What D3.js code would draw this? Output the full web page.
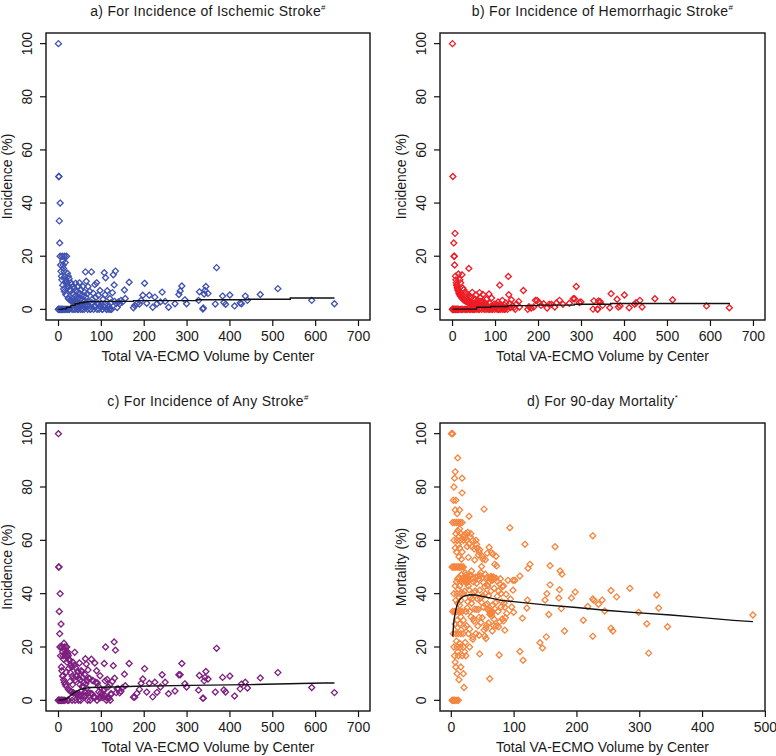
<!DOCTYPE html>
<html><head><meta charset="utf-8">
<script src="https://cdn.jsdelivr.net/npm/d3@7"></script>
<style>
body{margin:0;background:#fff}
text{font-family:"Liberation Sans",Arial,sans-serif;fill:#1a1a1a}
</style>
</head><body><svg id="chart" width="776" height="756"></svg>
<script>
// ---------- Data: centers (panels a-c share volumes) ----------
const volume = [
 1,2,2,3,4,5,5,5,6,7,
 8,8,9,10,10,11,11,12,12,13,
 13,14,15,15,16,16,17,18,18,19,
 20,20,21,22,23,24,25,25,26,27,
 28,29,30,31,32,33,34,35,36,37,
 38,39,40,41,42,43,44,45,46,47,
 48,49,50,51,52,53,54,55,56,57,
 58,59,60,61,62,63,64,65,66,67,
 68,69,70,72,74,76,78,80,82,84,
 86,88,90,92,94,96,98,
 1,1,2,3,4,6,7,9,11,14,
 17,19,22,24,27,30,33,36,40,44,
 48,52,57,63,71,75,79,83,87,91,
 95,99,104,109,114,118,122,
 101,103,105,107,108,110,111,113,115,117,
 119,121,123,125,127,129,131,132,134,136,
 138,141,144,147,150,
 155,157,166,176,179,184,190,194,198,202,
 207,213,221,226,231,239,243,250,258,273,
 282,285,289,296,300,328,330,338,339,341,
 343,345,350,367,370,384,387,391,401,412,
 425,428,437,442,472,513,592,645
];
const ischemic = [
 100,50,50,33.3,25,40,20,0,16.7,14.3,
 12.5,0,11.1,20,0,18.2,9.1,16.7,0,15.4,
 7.7,14.3,20,6.7,12.5,0,17.6,11.1,5.6,10.5,
 20,10,9.5,13.6,8.7,12.5,4,0,11.5,7.4,
 3.6,6.9,10,3.2,9.4,6.1,2.9,8.6,5.6,0,
 7.9,2.6,5,9.8,2.4,7,4.5,0,8.7,4.3,
 6.3,2,10,3.9,5.8,0,7.4,1.8,5.4,3.5,
 8.6,1.7,5,0,6.5,3.2,14.1,4.6,10.6,1.5,
 5.9,0,8.6,2.8,6.8,0,14.1,3.8,6.1,1.2,
 9.3,4.5,10,2.2,5.3,0,7.1,
 0,0,0,0,0,0,0,0,0,0,
 0,0,0,4.2,0,3.3,0,2.8,0,2.3,
 0,1.9,0,1.6,1.4,0,2.5,0,1.1,0,
 2.1,1,0,1.8,0,0.8,0,
 2,0,3.8,0.9,13.8,5.5,11.9,0,7,1.7,
 0,4.1,2.4,0,6.3,13,9.2,3,14.4,2.2,
 0.7,2.8,2.1,3.4,2.7,
 7.3,4.1,10.2,0.6,1.5,2.1,2,3.4,5.3,9.8,
 2.3,5.3,0.8,4.6,2.1,2.8,6.5,3,0.8,2.1,
 5.6,6.9,8.8,3.6,2.1,3.4,6.6,0.1,0.5,5.8,
 7.1,8.6,6,2,15.7,5,2.6,1.9,5.4,1.3,
 2.4,2.1,5,3.4,5.6,7.8,3.4,2.1
];
const hemorrhagic = [
 100,0,50,0,25,20,0,20,16.7,28.6,
 12.5,0,11.1,10,0,9.1,0,8.3,0,7.7,
 0,7.1,13.3,0,6.3,0,5.9,5.6,11.1,0,
 5,10,4.8,4.5,13,4.2,8,0,3.8,7.4,
 3.6,3.4,3.3,0,6.3,3,2.9,5.7,2.8,2.7,
 5.3,15.4,2.5,4.9,0,2.3,4.5,2.2,2.2,6.4,
 2.1,0,4,2,1.9,0,3.7,1.8,5.4,1.8,
 0,3.4,1.7,1.6,3.2,0,6.3,1.5,4.5,3,
 1.5,0,2.9,5.6,1.4,2.6,1.3,3.8,1.2,0,
 5.8,2.3,1.1,4.3,0,1,2,
 0,0,0,0,0,0,0,0,9.1,0,
 5.9,5.3,0,0,3.7,0,0,0,0,0,
 0,0,1.8,0,1.4,0,0,1.2,0,0,
 1.1,0,1,0,0.9,0,0,
 1,1.9,0,2.8,0,1.8,9.1,0,0.9,3.4,
 0.8,1.7,0,2.4,0.8,0,12.4,5.5,2.2,0.7,
 3.6,1.4,0.7,0,2,
 3,0.9,7.1,0,1,0.5,0.9,3.4,3.4,2.6,
 1.5,2.1,0.5,1.9,1.9,0.9,2.4,3.4,1.9,2.3,
 4,4,8.6,2.6,2.8,0.1,3.2,0.1,0,3.2,
 2.8,2.8,1.5,0.6,5.9,3.8,0.9,1.3,5.4,0.6,
 1.9,2.5,3.4,0.9,4,3.6,1.3,0.6
];
const anyStroke = [
 100,50,50,33.3,25,40,20,20,16.7,28.6,
 12.5,0,11.1,20,0,18.2,9.1,16.7,0,15.4,
 7.7,21.4,20,6.7,18.8,0,17.6,16.7,16.7,10.5,
 20,20,14.3,18.2,17.4,16.7,12,0,15.4,14.8,
 7.1,10.3,13.3,3.2,12.5,9.1,5.9,14.3,8.3,2.7,
 13.2,18,7.5,12.2,2.4,9.3,9.1,2.2,10.9,10.6,
 8.3,2,14,5.9,7.7,0,11.1,3.6,10.7,5.3,
 8.6,5.1,6.7,1.6,9.7,3.2,15.6,6.2,13.6,4.5,
 7.4,0,11.4,8.3,8.1,2.6,15.4,7.5,7.3,1.2,
 14,6.8,11.1,6.5,5.3,1,9.2,
 0,0,0,0,0,0,0,0,9.1,0,
 5.9,5.3,0,4.2,3.7,3.3,0,2.8,0,2.3,
 0,1.9,1.8,1.6,2.8,0,2.5,1.2,1.1,0,
 3.2,1,1,1.8,0.9,0.8,0,
 3,1.9,3.8,3.7,13.8,7.3,20,0,7.8,5.1,
 0.8,5.8,2.4,2.4,7.1,13,21.9,8.3,18.8,2.9,
 4.3,4.3,2.8,3.4,4.7,
 9.8,5.5,13.8,1.2,1.2,2.6,4.1,6.4,8,11.9,
 3.1,6.4,1.3,6.8,3,5,9.6,6.8,2.5,3.5,
 9.6,9.6,13.8,6.2,5,3.8,9.3,0.8,0.8,7.3,
 8.6,10.8,8,3.1,19.5,8.6,3.9,3.1,9.1,1.6,
 4.3,6.1,6.8,4.6,8.4,10.4,4.8,2.9
];

// ---------- Data: 90-day mortality centers ----------
const mortVolume = [
 2,3,4,5,6,8,10,12,13,20,
 10,8,7,16,6,12,18,11,5,10,
 15,20,14,9,4,8,12,16,20,11,
 7,14,10,20,16,3,6,9,12,15,
 18,14,11,8,16,13,5,10,15,20,
 12,7,14,9,18,11,13,17,2,4,
 6,8,10,12,14,16,18,20,17,13,
 9,18,7,14,12,5,10,15,20,13,
 8,16,11,14,3,6,9,12,15,18,
 10,7,14,4,8,18,5,6,18,7,
 11,1,2,3,17,19,21,23,25,27,
 22,24,26,62,64,66,68,63,65,66,
 21,22,23,24,25,26,27,28,29,30,
 31,32,33,34,35,36,37,38,39,40,
 41,42,43,44,45,46,47,48,49,50,
 51,52,53,54,55,56,57,58,59,60,
 61,62,62,63,64,65,66,67,68,69,
 70,71,72,73,74,75,76,77,78,79,
 80,81,82,84,85,86,87,89,91,94,
 95,97,99,100,99,22,22,23,24,25,
 25,26,27,28,28,29,30,30,31,32,
 33,34,35,36,37,38,39,40,41,42,
 43,44,45,46,47,48,49,50,51,52,
 53,54,55,56,57,58,59,60,61,62,
 63,64,65,66,67,68,69,70,72,74,
 76,78,80,82,84,86,88,21,23,26,
 27,29,32,35,37,41,44,46,50,55,
 58,65,72,24,30,35,45,56,102,110,
 110,114,115,118,121,122,123,126,142,146,
 150,152,153,156,158,158,166,172,173,174,
 177,176,181,192,198,211,218,226,226,228,
 226,235,241,245,255,255,258,264,285,299,
 312,315,328,331,345,481
];
const mortality = [
 0,0,0,0,0,0,0,0,7.7,10,
 10,12.5,14.3,12.5,16.7,16.7,16.7,18.2,20,20,
 20,20,21.4,22.2,25,25,25,25,25,27.3,
 28.6,28.6,30,30,31.3,33.3,33.3,33.3,33.3,33.3,
 33.3,35.7,36.4,37.5,37.5,38.5,40,40,40,40,
 41.7,42.9,42.9,44.4,44.4,45.5,46.2,47.1,50,50,
 50,50,50,50,50,50,50,50,52.9,53.8,
 55.6,55.6,57.1,57.1,58.3,60,60,60,60,61.5,
 62.5,62.5,63.6,64.3,66.7,66.7,66.7,66.7,66.7,66.7,
 70,71.4,71.4,75,75,77.8,80,83.3,83.3,85.7,
 90.9,100,100,100,45,45.8,45.2,46,45.5,46.4,
 44.6,47,45,45.8,46.5,45,46.3,32.8,32.5,33.4,
 4.8,18.2,21.7,62.5,60,46.2,44.4,42.9,69,33.3,
 61.3,46.9,36.4,57.6,23.8,44.4,29.7,52.6,41,60,
 34.1,57.1,27.9,45.5,55.6,17.4,38.3,47.9,50.2,31,
 53,44.2,71.7,24.1,40,27,46,36.2,43,29,
 57.4,8.1,32.3,45.5,33,46,26,54.8,45.6,30.4,
 51,36.6,27.8,50.4,44.6,33.3,41,17,29.5,45.6,
 40,37,42.7,29.8,36.5,26.3,31,32.6,45,64.7,
 38,35,45,33,41.3,40.9,27.3,47.8,33.3,44,
 28,34.6,37,25,53.6,41.4,46.7,26.7,38.7,31.3,
 48.5,38.2,45.7,30.6,40.5,34.2,46.2,25,43.9,38.1,
 46.5,34.1,31.1,41.3,46.8,29.2,36.7,46,39.2,35,
 26.4,42.6,47.3,35.7,28.1,43.1,33.9,39.2,44.3,33.9,
 33.3,41,31.6,45.2,35.8,28,42,34.3,45.8,39,
 27.6,43.6,35,30.5,42.9,34.9,39.8,61.9,60.9,57.7,
 63,58.6,62.5,60,56.8,58.5,54.5,56.5,54,52.7,
 55.2,55.4,54,16.7,20,22.9,24.4,23.2,45,46.6,
 18.3,30.8,15,58.5,34.6,37.6,49.5,51,21.6,19.6,
 37.6,23.8,40,32.2,43.3,50.5,57.6,38.4,41.5,48.5,
 47.3,34.4,26,38.4,40.6,30,35.2,61.7,38,37.5,
 24,36,37.6,33.5,41.2,27,26,38.8,42,33,
 28.7,17.7,39.5,34.6,27.6,32
];

// ---------- Fitted curves ----------
const fitIschemicX = [1,10,20,30,40,50,60,70,100,150,176,324,445,542,645];
const fitIschemicY = [0,0.2,0.8,1.5,2.1,2.5,2.8,2.9,3.0,3.0,3.3,3.6,3.8,4.3,4.3];
const fitHemorrhagicX = [1,50,57,90,129,199,284,369,645];
const fitHemorrhagicY = [0.1,0.1,0.8,1.1,1.4,1.6,1.9,2.2,2.5];
const fitAnyX = [1,10,19,27,35,43,51,60,74,128,183,308,445,620,645];
const fitAnyY = [0,0.2,0.6,1.5,2.5,3.4,4.0,4.4,4.8,5.0,5.3,5.6,5.9,6.5,6.5];
const fitMortX = [3,5,8,11,15,20,30,40,60,80,100,150,200,250,300,350,400,450,481];
const fitMortY = [24,30,34,36.5,38,39,39.6,39.5,38.5,37.5,37,35.8,34.8,33.7,32.8,32,31,30,29.5];

const xTicksWide = [0,100,200,300,400,500,600,700];
const xTicksMort = [0,100,200,300,400,500];
const yTicks = [0,20,40,60,80,100];

// ---------- Drawing ----------
const svg = d3.select("#chart");
const diamond = "M0,-3L3,0L0,3L-3,0Z";

function panel(o) {
  const x = d3.scaleLinear().domain(o.xDomain).range([o.x0, o.x1]);
  const y = d3.scaleLinear().domain([-4, 104]).range([o.y1, o.y0]);
  const g = svg.append("g");

  g.append("g").selectAll("path").data(o.xs.map((v,i)=>[v,o.ys[i]])).join("path")
    .attr("d", diamond)
    .attr("transform", d => `translate(${x(d[0])},${y(d[1])})`)
    .attr("fill", "none").attr("stroke", o.color).attr("stroke-width", 1.3);

  const line = d3.line().x(d=>x(d[0])).y(d=>y(d[1])).curve(o.curve);
  g.append("path").datum(o.fitX.map((v,i)=>[v,o.fitY[i]]))
    .attr("d", line).attr("fill","none").attr("stroke","#111").attr("stroke-width",1.4);

  g.append("rect").attr("x",o.x0).attr("y",o.y0).attr("width",o.x1-o.x0).attr("height",o.y1-o.y0)
    .attr("fill","none").attr("stroke","#111").attr("stroke-width",1.4);

  const xa = g.append("g").attr("transform",`translate(0,${o.y1})`)
    .call(d3.axisBottom(x).tickValues(o.xTicks).tickSize(6).tickSizeOuter(0).tickPadding(5));
  xa.select(".domain").remove();
  xa.selectAll("line").attr("stroke","#111").attr("stroke-width",1.2);
  xa.selectAll("text").attr("font-size",14).attr("font-family",'"Liberation Sans",Arial,sans-serif').attr("fill","#1a1a1a");

  g.append("g").selectAll("line").data(yTicks).join("line")
    .attr("x1",o.x0).attr("x2",o.x0-6).attr("y1",d=>y(d)).attr("y2",d=>y(d))
    .attr("stroke","#111").attr("stroke-width",1.2);
  g.append("g").selectAll("text").data(yTicks).join("text")
    .attr("transform",d=>`translate(${o.x0-14},${y(d)}) rotate(-90)`)
    .attr("text-anchor","middle").attr("font-size",14).text(d=>d);

  g.append("text").attr("transform",`translate(${o.x0-34},${(o.y0+o.y1)/2}) rotate(-90)`)
    .attr("text-anchor","middle").attr("font-size",14).text(o.ylab);
  g.append("text").attr("x",(o.x0+o.x1)/2).attr("y",o.y1+41)
    .attr("text-anchor","middle").attr("font-size",14).text("Total VA-ECMO Volume by Center");

  const t = g.append("text").attr("x",(o.x0+o.x1)/2).attr("y",o.y0-17)
    .attr("text-anchor","middle").attr("font-size",14).attr("letter-spacing","0.3px");
  t.append("tspan").text(o.title);
  t.append("tspan").attr("dy",-6).attr("font-size",8).text(o.sup);
}

panel({x0:46,x1:370,y0:33,y1:320,xDomain:[-28,728],xTicks:xTicksWide,
  title:"a) For Incidence of Ischemic Stroke",sup:"#",ylab:"Incidence (%)",
  xs:volume,ys:ischemic,color:"#3f51b0",fitX:fitIschemicX,fitY:fitIschemicY,curve:d3.curveStepAfter});
panel({x0:440,x1:765,y0:33,y1:320,xDomain:[-28,728],xTicks:xTicksWide,
  title:"b) For Incidence of Hemorrhagic Stroke",sup:"#",ylab:"Incidence (%)",
  xs:volume,ys:hemorrhagic,color:"#ee1c25",fitX:fitHemorrhagicX,fitY:fitHemorrhagicY,curve:d3.curveStepAfter});
panel({x0:46,x1:370,y0:423,y1:711,xDomain:[-28,728],xTicks:xTicksWide,
  title:"c) For Incidence of Any Stroke",sup:"#",ylab:"Incidence (%)",
  xs:volume,ys:anyStroke,color:"#7e1f80",fitX:fitAnyX,fitY:fitAnyY,curve:d3.curveLinear});
panel({x0:440,x1:765,y0:423,y1:711,xDomain:[-17.2,500.2],xTicks:xTicksMort,
  title:"d) For 90-day Mortality",sup:"*",ylab:"Mortality (%)",
  xs:mortVolume,ys:mortality,color:"#f5853f",fitX:fitMortX,fitY:fitMortY,curve:d3.curveLinear});
</script>
</body></html>
